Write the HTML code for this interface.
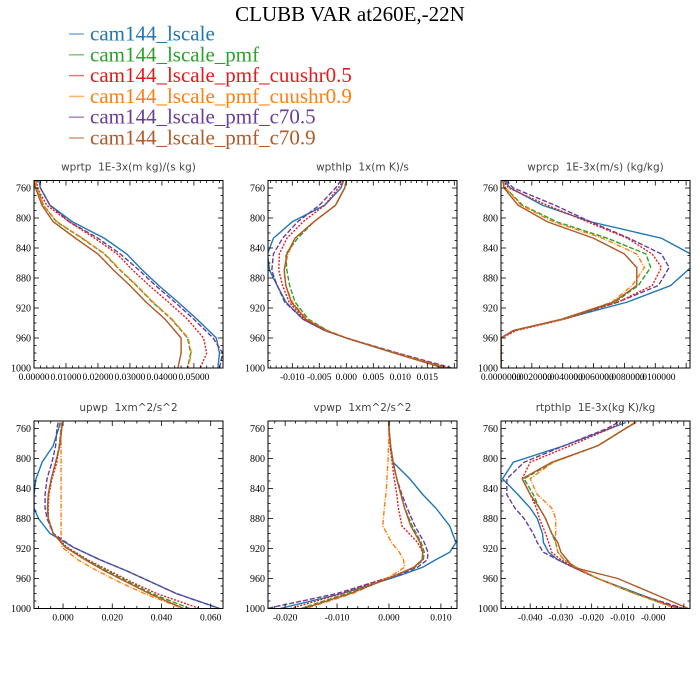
<!DOCTYPE html>
<html><head><meta charset="utf-8"><style>
html,body{margin:0;padding:0;background:#fff;}
svg{display:block;}
.pt{white-space:pre;}
</style></head><body>
<svg id="chart" width="700" height="700" xmlns="http://www.w3.org/2000/svg">
<rect width="700" height="700" fill="#fff"/>
<text x="350" y="21" text-anchor="middle" font-family="Liberation Serif, serif" font-size="21" fill="#000">CLUBB VAR at260E,-22N</text>
<g id="legend"></g>
<g id="panels"></g>
</svg>
<script>
const seriesNames = ["cam144_lscale","cam144_lscale_pmf","cam144_lscale_pmf_cuushr0.5","cam144_lscale_pmf_cuushr0.9","cam144_lscale_pmf_c70.5","cam144_lscale_pmf_c70.9"];
const seriesColors = ["#1f77b4","#2ca02c","#e31a1c","#ff7f0e","#6a3d9a","#b15928"];
const seriesDash = ["", "5,2", "2,1.5", "5,1.5,1,1.5", "5,2", ""];
const seriesOrder = [0,4,2,1,3,5];

// wprtp
const wprtpLev = [750,760,783,805,827,848,870,890,912,935,960,980,1000];
const wprtpVals = [
 [0.0015,0.002,0.005,0.012,0.022,0.029,0.034,0.039,0.045,0.051,0.057,0.058,0.0575],
 [0.0005,0.001,0.003,0.007,0.015,0.022,0.027,0.032,0.037,0.043,0.048,0.049,0.048],
 [0.001,0.001,0.004,0.011,0.019,0.026,0.031,0.036,0.042,0.048,0.053,0.054,0.052],
 [0.0005,0.001,0.003,0.0072,0.0152,0.0222,0.0272,0.0322,0.0372,0.0432,0.0482,0.0492,0.0482],
 [0.002,0.002,0.005,0.011,0.020,0.027,0.033,0.038,0.044,0.050,0.056,0.059,0.058],
 [0,0.0005,0.0025,0.006,0.013,0.020,0.025,0.030,0.035,0.041,0.046,0.046,0.045]];
const wprtpTicks = [0,0.01,0.02,0.03,0.04,0.05];
const wprtpTickLabels = ["0.00000","0.01000","0.02000","0.03000","0.04000","0.05000"];

// wpthlp
const wpthlpLev = [750,760,783,805,827,848,870,890,912,935,950,960,980,1000];
const wpthlpVals = [
 [-0.0005,-0.001,-0.004,-0.010,-0.0135,-0.0146,-0.0142,-0.0128,-0.0112,-0.008,-0.004,0.000,0.009,0.0185],
 [0,-0.0003,-0.002,-0.006,-0.009,-0.0112,-0.011,-0.0105,-0.0095,-0.007,-0.0035,0.000,0.009,0.0185],
 [-0.0005,-0.0015,-0.004,-0.008,-0.011,-0.0124,-0.0125,-0.0118,-0.0106,-0.0078,-0.0038,0.000,0.009,0.019],
 [0,-0.0003,-0.002,-0.006,-0.0095,-0.0108,-0.0115,-0.0112,-0.010,-0.0073,-0.0036,0.000,0.009,0.0185],
 [-0.001,-0.002,-0.005,-0.009,-0.0118,-0.0135,-0.0138,-0.0128,-0.0114,-0.008,-0.004,0.000,0.0095,0.0195],
 [0,-0.0003,-0.002,-0.006,-0.0095,-0.011,-0.0115,-0.0112,-0.0102,-0.0075,-0.0038,0.000,0.0088,0.018]];
const wpthlpTicks = [-0.010,-0.005,0,0.005,0.010,0.015];
const wpthlpTickLabels = ["-0.010","-0.005","0.000","0.005","0.010","0.015"];

// wprcp
const wprcpLev = [750,760,783,805,827,848,866,890,912,935,950,960,1000];
const wprcpVals = [
 [0.0002,0.0006,0.0027,0.0058,0.0104,0.0123,0.0123,0.011,0.0082,0.004,0.0008,0,0],
 [0.0001,0.0003,0.0014,0.0036,0.0069,0.0094,0.0097,0.0089,0.0074,0.004,0.0008,0,0],
 [0.0001,0.0005,0.0030,0.0056,0.0082,0.0098,0.0104,0.0098,0.0076,0.0041,0.001,0,0],
 [0.0001,0.0003,0.0013,0.0034,0.0066,0.0088,0.0093,0.0085,0.0072,0.004,0.0008,0,0],
 [0.0003,0.0008,0.0035,0.0058,0.0083,0.0104,0.0109,0.0102,0.0076,0.004,0.0009,0,0],
 [0.0001,0.0002,0.0011,0.0030,0.006,0.008,0.0088,0.0088,0.0073,0.0039,0.0008,0,0]];
const wprcpTicks = [0,0.002,0.004,0.006,0.008,0.010];
const wprcpTickLabels = ["0.0000000","0.0020000","0.0040000","0.0060000","0.0080000","0.0100000"];

// upwp
const upwpLev = [752,760,783,805,827,848,866,880,900,918,935,950,965,980,1000];
const upwpVals = [
 [-0.0012,-0.0018,-0.004,-0.0085,-0.011,-0.0118,-0.0118,-0.010,-0.0053,0.004,0.015,0.026,0.036,0.046,0.0637],
 [-0.0005,-0.0008,-0.0015,-0.003,-0.0048,-0.006,-0.0063,-0.006,-0.004,0.001,0.0095,0.018,0.027,0.036,0.0515],
 [-0.0005,-0.0008,-0.0015,-0.0025,-0.0045,-0.0057,-0.006,-0.006,-0.004,0.0015,0.010,0.019,0.028,0.038,0.0555],
 [-0.0008,-0.0008,-0.0008,-0.0008,-0.0008,-0.0008,-0.0008,-0.0008,-0.0008,-0.0005,0.006,0.014,0.023,0.033,0.0486],
 [-0.002,-0.0025,-0.003,-0.0045,-0.0065,-0.0073,-0.0073,-0.0065,-0.004,0.004,0.015,0.026,0.036,0.046,0.0635],
 [-0.0003,-0.0005,-0.0013,-0.003,-0.0048,-0.006,-0.0063,-0.006,-0.004,0.0008,0.009,0.017,0.026,0.035,0.049]];
const upwpTicks = [0,0.02,0.04,0.06];
const upwpTickLabels = ["0.000","0.020","0.040","0.060"];

// vpwp
const vpwpLev = [750,760,783,805,827,848,866,890,912,925,935,945,955,965,980,1000];
const vpwpVals = [
 [0,0,0.0003,0.0008,0.004,0.0065,0.009,0.0117,0.0129,0.0117,0.009,0.0065,0.0025,-0.002,-0.009,-0.021],
 [0,0,0.0003,0.0008,0.0015,0.0023,0.003,0.0045,0.0062,0.0068,0.0066,0.005,0.0015,-0.002,-0.008,-0.017],
 [0,0,0.0002,0.0006,0.001,0.0015,0.0018,0.0025,0.0055,0.0065,0.0064,0.0048,0.0015,-0.003,-0.009,-0.019],
 [0,0,-0.0001,-0.0002,-0.0004,-0.0006,-0.0009,-0.0012,0.0005,0.002,0.0028,0.003,0.0008,-0.002,-0.007,-0.016],
 [0,0,0.0003,0.0008,0.0015,0.0025,0.0035,0.005,0.0068,0.0075,0.0074,0.0055,0.002,-0.003,-0.010,-0.0235],
 [0,0,0.0003,0.0008,0.0015,0.0023,0.003,0.0042,0.006,0.0065,0.0064,0.0048,0.0015,-0.002,-0.0075,-0.0165]];
const vpwpTicks = [-0.02,-0.01,0,0.01];
const vpwpTickLabels = ["-0.020","-0.010","0.000","0.010"];

// rtpthlp
const rtpthlpLev = [752,760,783,805,827,848,866,880,900,912,925,935,945,960,980,1000];
const rtpthlpVals = [
 [-0.0089,-0.014,-0.029,-0.0455,-0.049,-0.044,-0.040,-0.0377,-0.036,-0.0357,-0.034,-0.031,-0.026,-0.018,-0.005,0.008],
 [-0.006,-0.009,-0.018,-0.0325,-0.042,-0.039,-0.037,-0.035,-0.033,-0.0317,-0.031,-0.029,-0.025,-0.018,-0.006,0.0075],
 [-0.0105,-0.014,-0.027,-0.040,-0.0426,-0.040,-0.038,-0.037,-0.035,-0.034,-0.033,-0.030,-0.026,-0.018,-0.006,0.009],
 [-0.006,-0.009,-0.018,-0.0325,-0.040,-0.0377,-0.033,-0.0317,-0.0317,-0.0317,-0.031,-0.029,-0.025,-0.018,-0.006,0.0075],
 [-0.0115,-0.015,-0.029,-0.042,-0.0476,-0.0476,-0.045,-0.042,-0.039,-0.0377,-0.0357,-0.031,-0.026,-0.018,-0.006,0.010],
 [-0.0055,-0.009,-0.018,-0.033,-0.0426,-0.040,-0.037,-0.035,-0.033,-0.031,-0.030,-0.028,-0.026,-0.0115,0.000,0.0115]];
const rtpthlpTicks = [-0.04,-0.03,-0.02,-0.01,0];
const rtpthlpTickLabels = ["-0.040","-0.030","-0.020","-0.010","-0.000"];

const yTicks = [760,800,840,880,920,960,1000];
const yTickLabels = ["760","800","840","880","920","960","1000"];

const NS = "http://www.w3.org/2000/svg";
function mk(tag, attrs, parent){
  const e = document.createElementNS(NS, tag);
  for (const k in attrs) e.setAttribute(k, attrs[k]);
  parent.appendChild(e);
  return e;
}

// legend
const legend = document.getElementById('legend');
for (let i=0;i<seriesNames.length;i++){
  const y = 34 + i*20.8;
  const g = mk('g', {}, legend);
  
  
  mk('line', {x1:69,x2:84,y1:y,y2:y,stroke:seriesColors[i],'stroke-width':1.5,opacity:0.6}, g);
  const t = mk('text', {x:90,y:y+6.5,'font-family':'Liberation Serif, serif','font-size':21,fill:seriesColors[i]}, g);
  t.textContent = seriesNames[i];
}

const panels = [
 {name:'wprtp', title:'wprtp  1E-3x(m kg)/(s kg)', x0:34, y0:180.5, xmin:0, xmax:0.0591, lev:wprtpLev, vals:wprtpVals, ticks:wprtpTicks, labels:wprtpTickLabels, minor:5, lfs:9.5},
 {name:'wpthlp', title:'wpthlp  1x(m K)/s', x0:268, y0:180.5, xmin:-0.0145, xmax:0.0205, lev:wpthlpLev, vals:wpthlpVals, ticks:wpthlpTicks, labels:wpthlpTickLabels, minor:5, lfs:9.5},
 {name:'wprcp', title:'wprcp  1E-3x(m/s) (kg/kg)', x0:501, y0:180.5, xmin:0, xmax:0.01225, lev:wprcpLev, vals:wprcpVals, ticks:wprcpTicks, labels:wprcpTickLabels, minor:4, lfs:9.5},
 {name:'upwp', title:'upwp  1xm^2/s^2', x0:34, y0:421, xmin:-0.0118, xmax:0.065, lev:upwpLev, vals:upwpVals, ticks:upwpTicks, labels:upwpTickLabels, minor:4, lfs:9.5},
 {name:'vpwp', title:'vpwp  1xm^2/s^2', x0:268, y0:421, xmin:-0.0233, xmax:0.0131, lev:vpwpLev, vals:vpwpVals, ticks:vpwpTicks, labels:vpwpTickLabels, minor:5, lfs:9.5},
 {name:'rtpthlp', title:'rtpthlp  1E-3x(kg K)/kg', x0:501, y0:421, xmin:-0.0495, xmax:0.012, lev:rtpthlpLev, vals:rtpthlpVals, ticks:rtpthlpTicks, labels:rtpthlpTickLabels, minor:5, lfs:9.5}
];
const W = 189, H = 187.5, PMIN = 750, PMAX = 1000;
const root = document.getElementById('panels');

panels.forEach(p => {
  const g = mk('g', {}, root);
  
  
  const xs = v => p.x0 + (v - p.xmin)/(p.xmax - p.xmin)*W;
  const ys = v => p.y0 + (v - PMIN)/(PMAX - PMIN)*H;
  const clipId = 'clip-'+p.name;
  const cp = mk('clipPath', {id:clipId}, g);
  mk('rect', {x:p.x0, y:p.y0, width:W, height:H}, cp);

  const title = mk('text', {x:p.x0+W/2, y:p.y0-10, 'text-anchor':'middle','font-family':'DejaVu Sans, sans-serif','font-size':10.5,fill:'#444','class':'pt'}, g);
  title.textContent = p.title;
  
  

  const sg = mk('g', {'clip-path':'url(#'+clipId+')'}, g);
  seriesOrder.forEach(si => {
    const pts = p.lev.map((lv,k) => xs(p.vals[si][k]).toFixed(2)+','+ys(lv).toFixed(2)).join(' ');
    const pl = mk('polyline', {points:pts, fill:'none', stroke:seriesColors[si], 'stroke-width':1.4}, sg);
    if (seriesDash[si]) pl.setAttribute('stroke-dasharray', seriesDash[si]);
    
    
  });

  const fr = mk('rect', {x:p.x0, y:p.y0, width:W, height:H, fill:'none', stroke:'#000','stroke-width':1}, g);
  
  

  const yt = mk('g', {stroke:'#000','stroke-width':0.8}, g);
  for (let v=750; v<=1000; v+=10){
    const y = ys(v); const major = (v-760)%40===0;
    const L = major?5:2.5;
    mk('line', {x1:p.x0,x2:p.x0+L,y1:y,y2:y}, yt);
    mk('line', {x1:p.x0+W,x2:p.x0+W-L,y1:y,y2:y}, yt);
  }
  yTicks.forEach((v,i) => {
    const t = mk('text', {x:p.x0-3, y:ys(v)+3.5, 'text-anchor':'end','font-family':'Liberation Serif, serif','font-size':10,fill:'#000'}, g);
    t.textContent = yTickLabels[i];
    
    
  });

  const step = p.ticks[1]-p.ticks[0];
  const ms = step/p.minor;
  const start = Math.ceil(p.xmin/ms - 1e-6);
  for (let k=start; k*ms<=p.xmax+1e-12; k++){
    const v = k*ms; const x = xs(v);
    const major = Math.abs(Math.round(k/p.minor)*p.minor - k) < 1e-6;
    const L = major?5:2.5;
    mk('line', {x1:x,x2:x,y1:p.y0+H,y2:p.y0+H-L}, yt);
    mk('line', {x1:x,x2:x,y1:p.y0,y2:p.y0+L}, yt);
  }
  p.ticks.forEach((v,i) => {
    const t = mk('text', {x:xs(v), y:p.y0+H+12, 'text-anchor':'middle','font-family':'Liberation Serif, serif','font-size':p.lfs,fill:'#000'}, g);
    t.textContent = p.labels[i];
    
    
  });
});
</script>
</body></html>
